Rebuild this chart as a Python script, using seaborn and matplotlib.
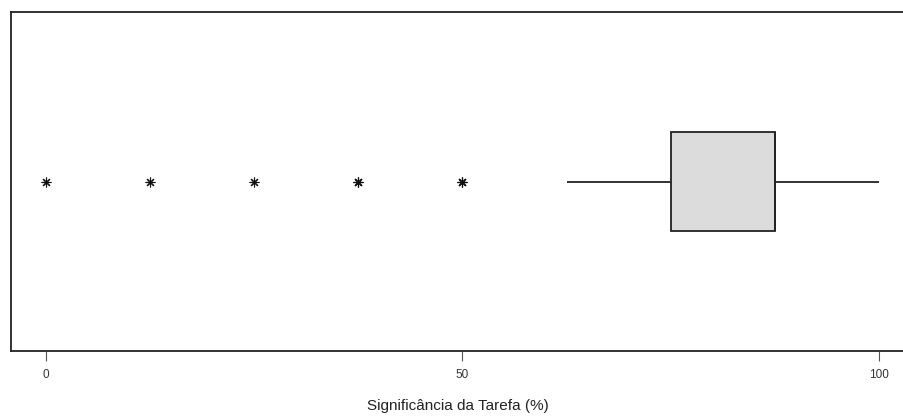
import numpy as np
import pandas as pd
import seaborn as sns
import matplotlib.pyplot as plt

# response levels (%) and how many answers fell on each
levels = [0, 12.5, 25, 37.5, 50, 62.5, 75, 87.5, 100]
counts = [1, 1, 1, 2, 2, 5, 15, 23, 10]
xticks = [0, 50, 100]

scores = pd.Series(np.repeat(levels, counts), name='Significância da Tarefa (%)')

sns.set_style('white')
plt.rcParams['font.family'] = ['Liberation Sans', 'DejaVu Sans']

fig = plt.figure(figsize=(9.04, 4.17), dpi=100)
ax = fig.add_axes([11 / 904, 66 / 417, 1 - 11 / 904, 339 / 417])

# R-style pch=8 asterisk for the outliers
sns.boxplot(x=scores, ax=ax, color='#dcdcdc', saturation=1, width=0.29,
            linecolor='#222222', linewidth=1.3, showcaps=False,
            flierprops={'marker': (8, 2, 0), 'markersize': 7,
                        'markeredgecolor': '#111111', 'markeredgewidth': 0.8})

ax.set_xlim(-4.2, 103.0)
ax.set_ylim(0.5, -0.5)
ax.set_yticks([])
ax.set_xticks(xticks)
ax.set_xticklabels([str(t) for t in xticks], fontsize=8.5, color='#333333')
ax.tick_params(axis='x', bottom=True, length=7, width=0.8, color='#555555', pad=6)
ax.set_xlabel('Significância da Tarefa (%)', fontsize=11, color='#222222', labelpad=13)
for side in ['left', 'top', 'bottom']:
    ax.spines[side].set_color('#222222')
    ax.spines[side].set_linewidth(1.3)
ax.spines['right'].set_visible(False)

fig.savefig('out.png', dpi=100)
